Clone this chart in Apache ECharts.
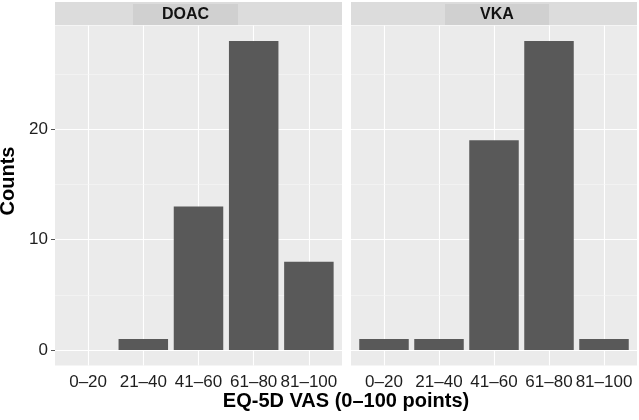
<!DOCTYPE html>
<html>
<head>
<meta charset="utf-8">
<script src="https://cdn.jsdelivr.net/npm/echarts@6/dist/echarts.min.js"></script>
<style>
    html, body { margin: 0; padding: 0; background: #fff; }
    #chart { width: 639px; height: 420px; }
</style>
</head>
<body>
<div id="chart"></div>
<script>
const categories = ['0–20', '21–40', '41–60', '61–80', '81–100']
const panelNames = ['DOAC', 'VKA']
const doacCounts = [0, 1, 13, 28, 8]
const vkaCounts = [1, 1, 19, 28, 1]
const yMajorTicks = [0, 10, 20]
const yMinorTicks = [5, 15, 25]

const font = 'Liberation Sans, Arial, Helvetica, sans-serif'
const positions = categories.map((c, i) => i + 1)
const panelCounts = [doacCounts, vkaCounts]

onload = () => {
    let myChart = echarts.init(document.getElementById('chart'))

    let grids = [
        { left: 55, top: 25.5, width: 287, height: 340 },
        { left: 351, top: 25.5, width: 286, height: 340 }
    ]

    let xAxes = grids.map((g, i) => ({
        type: 'value',
        gridIndex: i,
        min: 0.4,
        max: 5.6,
        axisLine: { show: false },
        splitLine: { show: false },
        axisTick: { show: true, customValues: positions, length: 4, lineStyle: { color: '#555', width: 1 } },
        axisLabel: {
            customValues: positions,
            formatter: v => categories[Math.round(v) - 1],
            color: '#1e1e1e',
            fontSize: 17,
            fontFamily: font,
            margin: 8
        }
    }))

    let yAxes = grids.map((g, i) => ({
        type: 'value',
        gridIndex: i,
        min: -1.4,
        max: 29.4,
        axisLine: { show: false },
        splitLine: { show: false },
        axisTick: { show: i === 0, customValues: yMajorTicks, length: 4, lineStyle: { color: '#555', width: 1 } },
        axisLabel: {
            show: i === 0,
            customValues: yMajorTicks,
            color: '#1e1e1e',
            fontSize: 17,
            fontFamily: font,
            margin: 7
        }
    }))

    let series = []
    panelCounts.forEach((counts, i) => {
        // grid lines (ggplot style) behind the bars
        let lines = []
        positions.forEach(p => lines.push({ xAxis: p, lineStyle: { color: '#ffffff', width: 1.1 } }))
        yMajorTicks.forEach(v => lines.push({ yAxis: v, lineStyle: { color: '#ffffff', width: 1.1 } }))
        yMinorTicks.forEach(v => lines.push({ yAxis: v, lineStyle: { color: '#f7f7f7', width: 0.6 } }))
        series.push({
            type: 'line',
            xAxisIndex: i,
            yAxisIndex: i,
            data: [],
            z: 1,
            silent: true,
            markLine: {
                z: 1,
                symbol: 'none',
                silent: true,
                animation: false,
                label: { show: false },
                lineStyle: { type: 'solid' },
                data: lines
            }
        })
        series.push({
            type: 'bar',
            name: panelNames[i],
            xAxisIndex: i,
            yAxisIndex: i,
            z: 3,
            barWidth: 49.5,
            itemStyle: { color: '#595959' },
            data: counts.map((v, k) => [positions[k], v])
        })
    })

    let stripRects = [
        { x: 55, w: 287, bx: 133, bw: 105 },
        { x: 351, w: 286, bx: 445, bw: 104 }
    ]
    let graphic = []
    stripRects.forEach((s, i) => {
        graphic.push({ type: 'rect', shape: { x: s.x, y: 2, width: s.w, height: 23 }, style: { fill: '#dcdcdc' }, silent: true })
        graphic.push({ type: 'rect', shape: { x: s.bx, y: 4, width: s.bw, height: 21 }, style: { fill: '#d0d0d0' }, silent: true })
        graphic.push({
            type: 'text', x: s.bx + s.bw / 2, y: 14.5, silent: true,
            style: { text: panelNames[i], fill: '#111', font: 'bold 16px ' + font, align: 'center', verticalAlign: 'middle' }
        })
    })
    graphic.push({
        type: 'text', x: 346, y: 401, silent: true,
        style: { text: 'EQ-5D VAS (0–100 points)', fill: '#000', font: 'bold 20px ' + font, align: 'center', verticalAlign: 'middle' }
    })
    graphic.push({
        type: 'text', x: 8, y: 181, rotation: Math.PI / 2, silent: true,
        style: { text: 'Counts', fill: '#000', font: 'bold 20px ' + font, align: 'center', verticalAlign: 'middle' }
    })

    let option = {
        animation: false,
        grid: grids.map(g => Object.assign({ show: true, backgroundColor: '#ebebeb', borderWidth: 0 }, g)),
        xAxis: xAxes,
        yAxis: yAxes,
        series: series,
        graphic: graphic
    }

    option && myChart.setOption(option)
}
</script>
</body>
</html>
